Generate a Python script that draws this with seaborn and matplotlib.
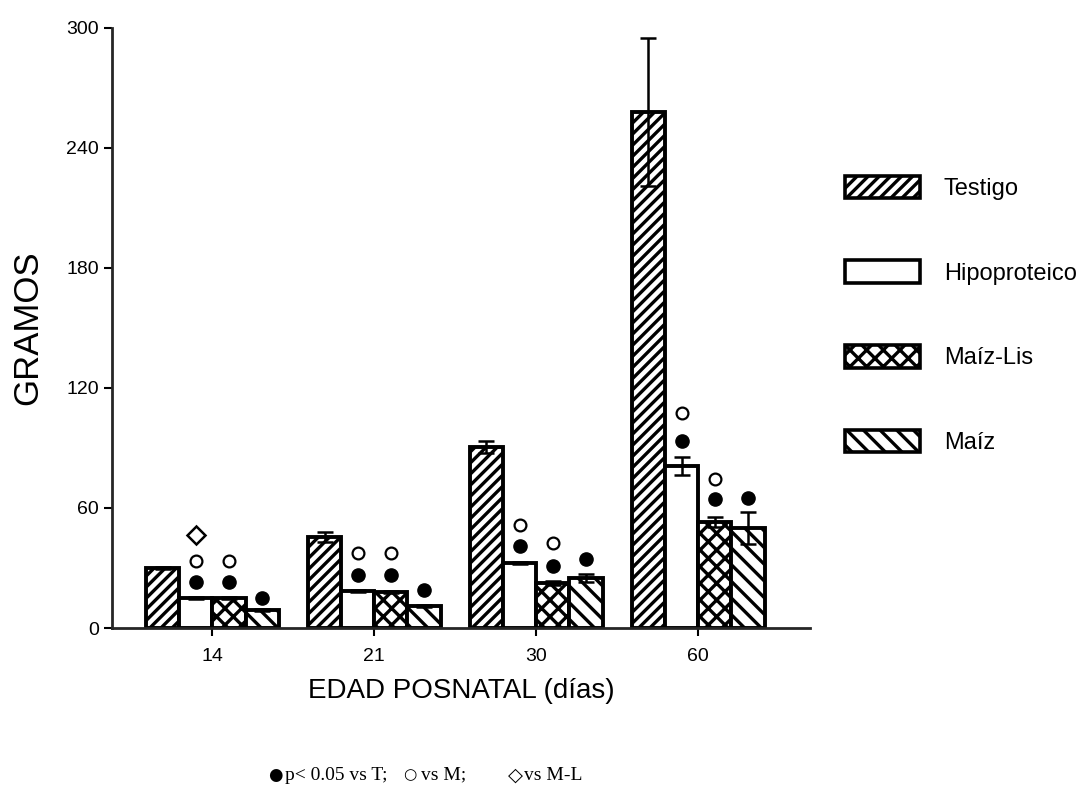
import numpy as np
import pandas as pd
import matplotlib
matplotlib.use("Agg")
import matplotlib.pyplot as plt
import matplotlib.patches as mpatches
import seaborn as sns

# datos (gramos)
edades = ["14", "21", "30", "60"]
dietas = ["Testigo", "Hipoproteico", "Maíz-Lis", "Maíz"]
testigo = [30, 45.5, 90.5, 258]
hipoproteico = [15, 18.5, 32.5, 81]
maiz_lis = [15, 18, 22.5, 53]
maiz = [9, 11, 25, 50]
testigo_err = [0.3, 2.5, 3, 37]
hipoproteico_err = [0.3, 0.3, 0.3, 4.5]
maiz_lis_err = [0.3, 0.3, 1, 2.5]
maiz_err = [0.3, 0.3, 2, 8]

# marcas de significancia (altura en gramos, nan = sin marca)
p_vs_t = {"Hipoproteico": [23, 26.5, 41, 93.5],
          "Maíz-Lis": [23, 26.5, 31, 64.5],
          "Maíz": [15, 19, 34.5, 65]}
p_vs_m = {"Hipoproteico": [33.5, 37.5, 51.5, 107.5],
          "Maíz-Lis": [33.5, 37.5, 42.5, 74.5]}
p_vs_ml = {"Hipoproteico": [46.5, np.nan, np.nan, np.nan]}

hatches = ["///", "", "xx", "\\\\"]

valores = [testigo, hipoproteico, maiz_lis, maiz]
errores = [testigo_err, hipoproteico_err, maiz_lis_err, maiz_err]
df = pd.DataFrame({
    "edad": edades * 4,
    "dieta": np.repeat(dietas, 4),
    "gramos": np.concatenate(valores),
})

sns.set_style("ticks")
plt.rcParams["font.family"] = ["Liberation Sans", "DejaVu Sans"]
plt.rcParams["hatch.linewidth"] = 2.4
for k in ["text.color", "axes.labelcolor", "xtick.color", "ytick.color"]:
    plt.rcParams[k] = "black"

fig = plt.figure(figsize=(10.82, 7.93), dpi=100)
ax = fig.add_axes([0.1035, 0.208, 0.645, 0.757])

sns.barplot(data=df, x="edad", y="gramos", hue="dieta", order=edades,
            hue_order=dietas, errorbar=None, width=0.82, dodge=True,
            palette=["white"] * 4, edgecolor="black", linewidth=2.8,
            legend=False, ax=ax)

centros = {}
for cont, h, d, err in zip(ax.containers, hatches, dietas, errores):
    xs = []
    for bar in cont:
        bar.set_hatch(h)
        bar.set_facecolor("white")
        bar.set_edgecolor("black")
        xs.append(bar.get_x() + bar.get_width() / 2)
    centros[d] = np.array(xs)
    alturas = [b.get_height() for b in cont]
    ax.errorbar(xs, alturas, yerr=err, fmt="none", ecolor="black",
                elinewidth=1.8, capsize=5.5, capthick=1.8, zorder=5)

for d, ys in p_vs_t.items():
    ax.plot(centros[d], ys, "o", ms=9.5, color="black", ls="none")
for d, ys in p_vs_m.items():
    ax.plot(centros[d], ys, "o", ms=8.5, mfc="white", mec="black",
            mew=1.6, ls="none")
for d, ys in p_vs_ml.items():
    ax.plot(centros[d], ys, "D", ms=9, mfc="white", mec="black",
            mew=1.8, ls="none")

ax.set_xlim(-0.62, 3.69)
ax.set_ylim(0, 300)
ax.set_yticks([0, 60, 120, 180, 240, 300])
ax.tick_params(labelsize=14, width=1.5, length=6, direction="out")
ax.tick_params(axis="x", pad=8)
ax.set_xlabel("EDAD POSNATAL (días)", fontsize=20, labelpad=10)
ax.set_ylabel("GRAMOS", fontsize=25, labelpad=16)
for s in ["left", "bottom"]:
    ax.spines[s].set_linewidth(2)
sns.despine(ax=ax)

manejadores = [mpatches.Patch(facecolor="white", edgecolor="black",
                              hatch=h, lw=2.6, label=d)
               for h, d in zip(hatches, dietas)]
fig.legend(handles=manejadores, loc="upper left",
           bbox_to_anchor=(833 / 1082, 1 - 164 / 793), frameon=False,
           fontsize=17, handlelength=3.2, handleheight=1.1,
           labelspacing=2.55, handletextpad=1.0, borderpad=0)

pie = 1 - 775 / 793
serif = ["Liberation Serif", "DejaVu Serif"]
fig.text(268 / 1082, pie, "●", fontsize=12, va="center", family=["DejaVu Sans"])
fig.text(285 / 1082, pie, "p< 0.05 vs T;", fontsize=14, va="center", family=serif)
fig.text(403 / 1082, pie, "○", fontsize=11, va="center", family=["DejaVu Sans"])
fig.text(421 / 1082, pie, "vs M;", fontsize=14, va="center", family=serif)
fig.text(508 / 1082, pie, "◇", fontsize=14, va="center", family=["DejaVu Sans"])
fig.text(524 / 1082, pie, "vs M-L", fontsize=14, va="center", family=serif)

fig.savefig("out.png", dpi=100)
